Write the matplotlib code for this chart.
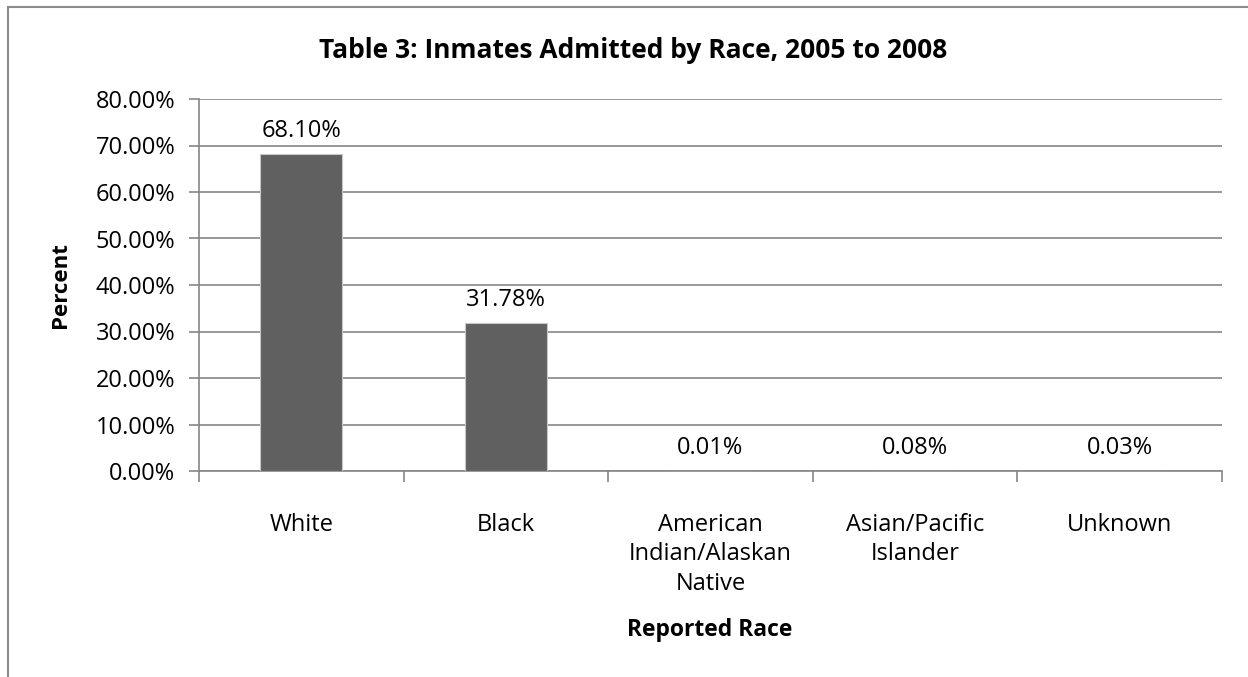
import numpy as np
import matplotlib.pyplot as plt
from matplotlib.patches import Rectangle
from matplotlib.ticker import FuncFormatter, FixedLocator

# Data
races = ["White", "Black", "American\nIndian/Alaskan\nNative", "Asian/Pacific\nIslander", "Unknown"]
percent = [68.10, 31.78, 0.01, 0.08, 0.03]
labels = ["68.10%", "31.78%", "0.01%", "0.08%", "0.03%"]

plt.rcParams['font.family'] = ['Open Sans', 'DejaVu Sans']

fig = plt.figure(figsize=(12.48, 6.77), dpi=100)
ax = fig.add_axes([199 / 1248, 1 - 471 / 677, (1222 - 199) / 1248, (471 - 99) / 677])

# outer chart border (cut off at right/bottom like the original)
fig.patches.append(Rectangle((8 / 1248, -0.1), 1.2, 1.1 - 7 / 677, transform=fig.transFigure,
                             fill=False, edgecolor="#8c8c8c", linewidth=1.5))

x = np.arange(len(races))
bars = ax.bar(x, percent, width=0.4, color="#606060", edgecolor="#c8c8c8", linewidth=0.8, zorder=3)

for xi, v, lab in zip(x, percent, labels):
    ax.annotate(lab, (xi, v), xytext=(0, 8), textcoords="offset points",
                ha="center", va="bottom", fontsize=17)

ax.set_xlim(-0.5, len(races) - 0.5)
ax.set_ylim(0, 80)
ax.set_yticks(np.arange(0, 81, 10))
ax.yaxis.set_major_formatter(FuncFormatter(lambda v, p: f"{v:.2f}%"))
ax.grid(axis="y", color="#868686", linewidth=1.2, zorder=0)

# category names centred, ticks between categories
ax.set_xticks(x)
ax.set_xticklabels(races, fontsize=17, linespacing=1.32, va="top")
ax.tick_params(axis="x", length=0, pad=30)
ax.xaxis.set_minor_locator(FixedLocator(np.arange(-0.5, len(races), 1.0)))
ax.tick_params(axis="x", which="minor", length=8, width=1.2, color="#868686")
ax.tick_params(axis="y", labelsize=17, length=7, width=1.2, color="#868686", pad=10)

for s in ["top", "right"]:
    ax.spines[s].set_visible(False)
for s in ["left", "bottom"]:
    ax.spines[s].set_color("#868686")
    ax.spines[s].set_linewidth(1.2)

fig.text(633 / 1248, 1 - 50 / 677, "Table 3: Inmates Admitted by Race, 2005 to 2008",
         ha="center", va="center", fontsize=19, fontweight="bold")
fig.text(60 / 1248, 1 - 285 / 677, "Percent", rotation=90, ha="center", va="center",
         fontsize=16, fontweight="bold")
fig.text(710 / 1248, 1 - 630 / 677, "Reported Race", ha="center", va="center",
         fontsize=16.5, fontweight="bold")

fig.savefig("out.png", dpi=100)
